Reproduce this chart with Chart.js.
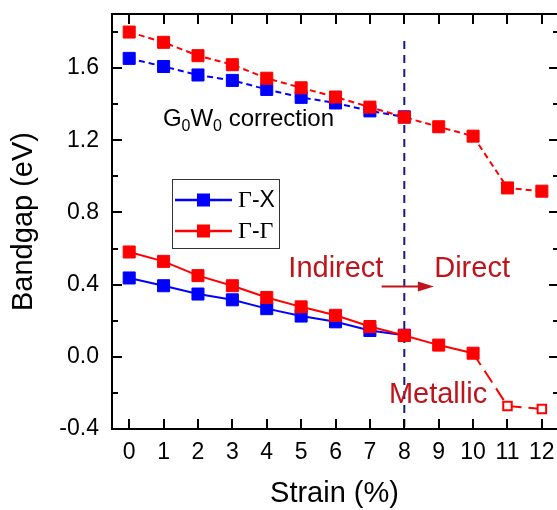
<!DOCTYPE html>
<html><head><meta charset="utf-8">
<script src="https://cdn.jsdelivr.net/npm/chart.js@4"></script>
<style>html,body{margin:0;padding:0;overflow:hidden;background:#fff}</style>
</head><body>
<canvas id="c" width="557" height="510" style="width:557px;height:510px;display:block"></canvas>
<script>
// ---- data ----
const STRAIN = [0,1,2,3,4,5,6,7,8,9,10,11,12];
const GX_PBE = [0.437,0.394,0.348,0.316,0.267,0.226,0.194,0.146,0.120];
const GG_PBE = [0.581,0.529,0.450,0.394,0.329,0.277,0.230,0.168,0.118,0.065,0.020,-0.272,-0.289];
const GX_GW  = [1.654,1.609,1.562,1.532,1.482,1.438,1.407,1.363,1.330];
const GG_GW  = [1.800,1.743,1.669,1.619,1.544,1.491,1.440,1.384,1.328,1.275,1.223,0.936,0.918];
const X_TICKS = [0,1,2,3,4,5,6,7,8,9,10,11,12];
const Y_TICKS = [-0.4,0.0,0.4,0.8,1.2,1.6];
const Y_MINOR = [-0.2,0.2,0.6,1.0,1.4,1.8];
const X_MIN = -0.5, X_FRAME_MAX = 12.5, X_VISIBLE_MAX = 12.44; // plot frame runs to 12.5, just past the picture's right edge
const TRANSITION_STRAIN = 8;
const TRANSITION_LINE_Y = [1.75,-0.4];
const ARROW_X = [7.34, 8.86];
const ARROW_Y = 0.39;
const LEGEND_LABELS = ['Γ-X','Γ-Γ'];
const SERIES_NAMES = ['Γ-X (PBE)','Γ-Γ (PBE)','Γ-X (G0W0)','Γ-Γ (G0W0)'];

const BLUE = '#0000ff', RED = '#ff0000', DARKRED = '#c0141c', NAVY = '#1a1a7e';
const SANS = '"Liberation Sans", Arial, sans-serif';
const SERIF = '"Liberation Serif", "Times New Roman", serif';

const pts = (ys) => ys.map((y,i) => ({x: STRAIN[i], y}));

const baseFilled = (color) => ({
  borderColor: color, backgroundColor: color,
  pointStyle: 'rect', pointRadius: 8.5, pointHoverRadius: 8.5,
  pointBorderWidth: 1, pointBorderColor: color, pointBackgroundColor: color,
  borderWidth: 2, tension: 0, fill: false
});

const datasets = [
  Object.assign(baseFilled(RED), {
    label: SERIES_NAMES[1], data: pts(GG_PBE), order: 1,
    pointBackgroundColor: ctx => (ctx.raw && ctx.raw.y < 0) ? '#ffffff' : RED,
    pointBorderWidth: ctx => (ctx.raw && ctx.raw.y < 0) ? 2 : 1,
    pointRadius: ctx => (ctx.raw && ctx.raw.y < 0) ? 6 : 8.5,
    segment: { borderDash: ctx => ctx.p1.parsed.y < 0 ? [14,7] : undefined }
  }),
  Object.assign(baseFilled(RED), {
    label: SERIES_NAMES[3], data: pts(GG_GW), order: 1, borderDash: [6,4]
  }),
  Object.assign(baseFilled(BLUE), {
    label: SERIES_NAMES[0], data: pts(GX_PBE), order: 2
  }),
  Object.assign(baseFilled(BLUE), {
    label: SERIES_NAMES[2], data: pts(GX_GW), order: 2, borderDash: [6,4]
  }),
  {
    label: 'transition', order: 3,
    data: TRANSITION_LINE_Y.map(y => ({x: TRANSITION_STRAIN, y})),
    borderColor: NAVY, borderWidth: 2, borderDash: [8,6], pointRadius: 0, fill: false
  }
];

const decor = {
  id: 'decor',
  afterDatasetsDraw(chart) {
    const {ctx, chartArea: a, scales: {x, y}} = chart;
    const L = x.getPixelForValue(X_MIN), R = x.getPixelForValue(X_FRAME_MAX);
    ctx.save();
    // frame
    ctx.strokeStyle = '#000'; ctx.lineWidth = 2;
    ctx.strokeRect(L, a.top, R - L, a.bottom - a.top);
    // x ticks (bottom & top, inward) + labels
    ctx.fillStyle = '#000'; ctx.font = '23px ' + SANS;
    ctx.textAlign = 'center'; ctx.textBaseline = 'middle';
    X_TICKS.forEach(v => {
      const px = Math.round(x.getPixelForValue(v));
      ctx.beginPath();
      ctx.moveTo(px, a.bottom); ctx.lineTo(px, a.bottom - 10);
      ctx.moveTo(px, a.top); ctx.lineTo(px, a.top + 10);
      ctx.stroke();
      ctx.fillText(String(v), x.getPixelForValue(v), a.bottom + 23.8);
    });
    // y ticks (left & right, inward)
    const yt = (v, len) => {
      const py = Math.round(y.getPixelForValue(v));
      ctx.beginPath();
      ctx.moveTo(L, py); ctx.lineTo(L + len, py);
      ctx.moveTo(R, py); ctx.lineTo(R - len, py);
      ctx.stroke();
    };
    Y_TICKS.forEach(v => yt(v, 10));
    Y_MINOR.forEach(v => yt(v, 6));

    // annotations
    ctx.fillStyle = DARKRED;
    ctx.font = '29px ' + SANS;
    ctx.textBaseline = 'alphabetic';
    ctx.textAlign = 'center';
    ctx.fillText('Indirect', x.getPixelForValue(6.01), y.getPixelForValue(0.442));
    ctx.textAlign = 'left';
    ctx.fillText('Direct', x.getPixelForValue(8.87), y.getPixelForValue(0.442));
    ctx.textAlign = 'right';
    ctx.fillText('Metallic', x.getPixelForValue(10.41), y.getPixelForValue(-0.256));

    // arrow
    const ax0 = x.getPixelForValue(ARROW_X[0]), ax1 = x.getPixelForValue(ARROW_X[1]);
    const ay = y.getPixelForValue(ARROW_Y);
    ctx.strokeStyle = DARKRED; ctx.lineWidth = 2;
    ctx.beginPath(); ctx.moveTo(ax0, ay); ctx.lineTo(ax1 - 12, ay); ctx.stroke();
    ctx.beginPath();
    ctx.moveTo(ax1, ay); ctx.lineTo(ax1 - 16, ay - 5); ctx.lineTo(ax1 - 16, ay + 5); ctx.closePath();
    ctx.fill();

    // G0W0 correction
    ctx.fillStyle = '#000'; ctx.textAlign = 'left';
    let gx = x.getPixelForValue(0.98);
    const gy = y.getPixelForValue(1.279);
    const parts = [['G',24,0],['0',16,5],['W',24,0],['0',16,5],[' correction',24,0]];
    parts.forEach(([t, s, dy]) => {
      ctx.font = s + 'px ' + SANS;
      ctx.fillText(t, gx, gy + dy);
      gx += ctx.measureText(t).width;
    });

    // legend
    ctx.strokeStyle = '#333'; ctx.lineWidth = 1;
    ctx.strokeRect(172.5, 179.5, 107, 69);
    const rows = [[BLUE, 200, LEGEND_LABELS[0]], [RED, 231, LEGEND_LABELS[1]]];
    rows.forEach(([c, ry, lbl]) => {
      ctx.strokeStyle = c; ctx.lineWidth = 2.5;
      ctx.beginPath(); ctx.moveTo(175, ry); ctx.lineTo(232, ry); ctx.stroke();
      ctx.fillStyle = c; ctx.fillRect(197, ry - 6.5, 13, 13);
      ctx.fillStyle = '#000'; ctx.textBaseline = 'middle';
      let tx = 238;
      for (const ch of lbl) {
        ctx.font = (ch === 'Γ' ? '24px ' + SERIF : '23px ' + SANS);
        ctx.fillText(ch, tx, ry + 1);
        tx += ctx.measureText(ch).width;
      }
    });
    ctx.restore();
  }
};

const zeroPad = s => { s.paddingLeft = 0; s.paddingRight = 0; s.paddingTop = 0; s.paddingBottom = 0; };

new Chart(document.getElementById('c'), {
  type: 'line',
  data: { datasets },
  options: {
    responsive: false, animation: false,
    layout: { autoPadding: false, padding: { left: 0, top: 14, right: 0, bottom: 0 } },
    plugins: { legend: { display: false }, tooltip: { enabled: false } },
    scales: {
      x: {
        type: 'linear', min: X_MIN, max: X_VISIBLE_MAX,
        afterFit: s => { s.height = 81; zeroPad(s); },
        afterBuildTicks: s => { s.ticks = X_TICKS.map(v => ({value: v})); },
        grid: { display: false, drawTicks: false, tickLength: 0 },
        border: { display: false },
        ticks: { display: false },
        title: { display: true, text: 'Strain (%)', color: '#000',
                 font: { family: SANS, size: 29, lineHeight: 1.1 }, padding: 0 }
      },
      y: {
        type: 'linear', min: -0.4, max: 1.9,
        afterFit: s => { s.width = 112; zeroPad(s); },
        afterBuildTicks: s => { s.ticks = Y_TICKS.map(v => ({value: v})); },
        grid: { display: false, drawTicks: false, tickLength: 0 },
        border: { display: false },
        ticks: { color: '#000', font: { family: SANS, size: 23 }, padding: 13, autoSkip: false,
                 callback: v => Number(v).toFixed(1) },
        title: { display: true, text: 'Bandgap (eV)', color: '#000',
                 font: { family: SANS, size: 29, lineHeight: 1.2 }, padding: { top: 7, bottom: 0 } }
      }
    }
  },
  plugins: [decor]
});
</script>
</body></html>
